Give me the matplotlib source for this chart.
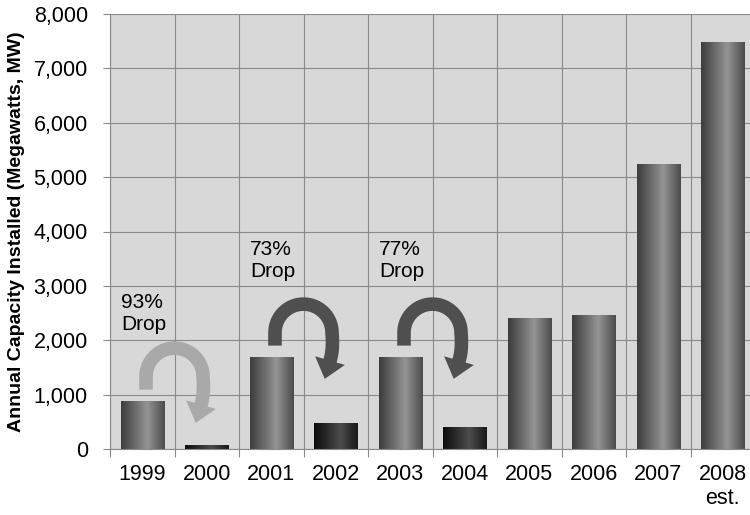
import numpy as np
import matplotlib
matplotlib.use('Agg')
import matplotlib.pyplot as plt
from matplotlib.path import Path
from matplotlib.patches import PathPatch
from matplotlib.transforms import ScaledTranslation
from matplotlib.ticker import FuncFormatter, MultipleLocator

plt.rcParams['font.family'] = ['Liberation Sans', 'DejaVu Sans']

# Data
years = ['1999', '2000', '2001', '2002', '2003', '2004', '2005', '2006', '2007', '2008\nest.']
capacity = [880, 70, 1690, 470, 1690, 400, 2410, 2460, 5250, 7480]
drop_bars = [1, 3, 5]            # the low years after a boom
drop_from = [0, 2, 4]            # arrows start above these bars
drop_labels = ['93%\nDrop', '73%\nDrop', '77%\nDrop']
drop_label_y = [2500, 3470, 3470]
arrow_colors = ['#a9a9a9', '#4f4f4f', '#4f4f4f']


def arrow_outline():
    '''Curved "drop" arrow, in pixels relative to its centre (y up).'''
    r = 28.5
    pts = [(-r, -13.0), (-r, -6.0)]
    for a in np.linspace(np.pi, 0, 40):
        pts.append((r * np.cos(a), r * np.sin(a)))
    p0, c, p1 = np.array([r, 0.0]), np.array([30.0, -17.0]), np.array([26.5, -28.0])
    for t in np.linspace(0, 1, 12)[1:]:
        pts.append(tuple((1 - t) ** 2 * p0 + 2 * (1 - t) * t * c + t ** 2 * p1))
    pts = np.array(pts)
    d = np.gradient(pts, axis=0)
    d /= np.linalg.norm(d, axis=1)[:, None]
    n = np.column_stack([-d[:, 1], d[:, 0]])
    w = 6.8
    outer = pts + w * n
    inner = pts - w * n
    e, de, ne = pts[-1], d[-1], n[-1]
    head = [e + 15.5 * ne, e + 19 * de, e - 15.5 * ne]
    verts = np.vstack([outer, head, inner[::-1], outer[:1]])
    codes = [Path.MOVETO] + [Path.LINETO] * (len(verts) - 2) + [Path.CLOSEPOLY]
    return verts, codes


fig = plt.figure(figsize=(7.5, 5.15), dpi=100)
ax = fig.add_axes([110 / 750, 66 / 515, 645 / 750, 435 / 515])
ax.set_facecolor('#d8d8d8')

x = np.arange(len(years))
width = 0.67
bars = ax.bar(x, capacity, width=width, color='none', edgecolor='none', zorder=2)

# cylinder-like shading
t = np.linspace(0, 1, 64)
light = np.interp(t, [0, 0.6, 1], [0.24, 0.58, 0.30])
dark = np.interp(t, [0, 0.6, 1], [0.05, 0.30, 0.10])
for i, b in enumerate(bars):
    prof = dark if i in drop_bars else light
    im = ax.imshow(prof[None, :], extent=[b.get_x(), b.get_x() + b.get_width(), 0, b.get_height()],
                   aspect='auto', cmap='gray', vmin=0, vmax=1, zorder=2, interpolation='bilinear')
    im.set_clip_path(b)

ax.set_xlim(-0.5, len(years) - 0.5)
ax.set_ylim(0, 8000)

# grid and ticks
ax.set_axisbelow(True)
ax.yaxis.set_major_locator(MultipleLocator(1000))
ax.yaxis.set_major_formatter(FuncFormatter(lambda v, p: f'{int(v):,}'))
ax.set_xticks(x)
ax.set_xticklabels(years)
ax.set_xticks(np.arange(len(years) + 1) - 0.5, minor=True)
ax.grid(axis='y', which='major', color='#8a8a8a', linewidth=0.8)
ax.grid(axis='x', which='minor', color='#8a8a8a', linewidth=0.8)
ax.tick_params(axis='x', which='major', length=0, pad=11, labelsize=15.5)
ax.tick_params(axis='x', which='minor', length=6, color='#8a8a8a', width=0.8)
ax.tick_params(axis='y', length=5, color='#8a8a8a', width=0.8, pad=11, labelsize=15.5)
for side in ['top', 'right']:
    ax.spines[side].set_visible(False)
for side in ['left', 'bottom']:
    ax.spines[side].set_color('#8a8a8a')
    ax.spines[side].set_linewidth(0.8)

ax.set_ylabel('Annual Capacity Installed (Megawatts, MW)', fontsize=14, fontweight='bold', labelpad=6)

# drop arrows and labels
verts, codes = arrow_outline()
for k, i in enumerate(drop_from):
    tr = ScaledTranslation(i + 0.5, capacity[i], ax.transData)
    shape = Path(verts / 100.0 + np.array([0, 24.5 / 100.0]), codes)
    ax.add_patch(PathPatch(shape, facecolor=arrow_colors[k], edgecolor='none',
                           transform=fig.dpi_scale_trans + tr, zorder=4, clip_on=False))
    ax.text(i - 0.33, drop_label_y[k], drop_labels[k], fontsize=15, ha='left', va='center',
            linespacing=1.2, zorder=5)

fig.savefig('out.png', dpi=100)
